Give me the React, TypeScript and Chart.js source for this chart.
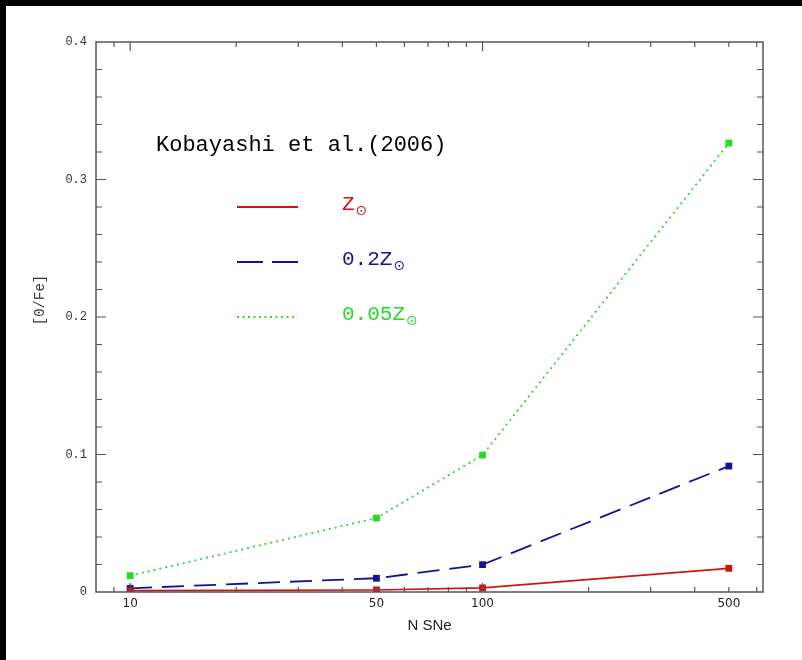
import React, { useEffect, useRef } from "react";
import { Chart, registerables } from "chart.js";

Chart.register(...registerables);

const nSNe = [10, 50, 100, 500];
const solarZ = [0.001, 0.0015, 0.003, 0.0172];
const z02 = [0.0027, 0.01, 0.0199, 0.0916];
const z005 = [0.0119, 0.0538, 0.0996, 0.3265];
const seriesLabels = ["Z", "0.2Z", "0.05Z"];
const xTickLabels = [10, 50, 100, 500];
const xMajorTicks = [10, 100];
const xMinorTicks = [9, 20, 30, 40, 50, 60, 70, 80, 90, 200, 300, 400, 500, 600];
const yMax = 0.4;
const yMinorStep = 0.02;
const legendTitle = "Kobayashi et al.(2006)";

const RED = "#cc1414";
const BLUE = "#12129a";
const GREEN = "#22dd22";

const pts = (ys: number[]) => nSNe.map((x, i) => ({ x, y: ys[i] }));

export default function App() {
  const ref = useRef<HTMLCanvasElement | null>(null);
  useEffect(() => {
    const canvas = ref.current!;
    const styles = [
      { color: RED, dash: [] as number[], width: 1.6 },
      { color: BLUE, dash: [22, 10], width: 1.8 },
      { color: GREEN, dash: [2, 4], width: 1.8 },
    ];
    const bgPlugin = {
      id: "bg",
      beforeDraw(chart: any) {
        const c = chart.ctx;
        c.save();
        c.fillStyle = "#fff";
        c.fillRect(0, 0, chart.width, chart.height);
        c.fillStyle = "#000";
        c.fillRect(0, 0, chart.width, 6);
        c.fillRect(0, 0, 6, chart.height);
        c.restore();
      },
    };
    const framePlugin = {
      id: "frame",
      afterDraw(chart: any) {
        const c = chart.ctx;
        const a = chart.chartArea;
        const xs = chart.scales.x;
        const ys = chart.scales.y;
        c.save();
        c.strokeStyle = "#555";
        c.lineWidth = 1.5;
        c.strokeRect(a.left, a.top, a.right - a.left, a.bottom - a.top);
        c.lineWidth = 1.2;
        const drawX = (v: number, len: number) => {
          const px = xs.getPixelForValue(v);
          c.beginPath();
          c.moveTo(px, a.bottom);
          c.lineTo(px, a.bottom - len);
          c.moveTo(px, a.top);
          c.lineTo(px, a.top + len);
          c.stroke();
        };
        xMajorTicks.forEach((v) => drawX(v, 9));
        xMinorTicks.forEach((v) => drawX(v, 5));
        const n = Math.round(yMax / yMinorStep);
        for (let i = 1; i < n; i++) {
          const py = ys.getPixelForValue(i * yMinorStep);
          const len = i % 5 === 0 ? 10 : 6;
          c.beginPath();
          c.moveTo(a.left, py);
          c.lineTo(a.left + len, py);
          c.moveTo(a.right, py);
          c.lineTo(a.right - len, py);
          c.stroke();
        }
        // axis titles
        c.fillStyle = "#222";
        c.font = '15px "Liberation Sans"';
        c.textAlign = "center";
        c.textBaseline = "middle";
        c.fillText("N SNe", (a.left + a.right) / 2, 626);
        c.save();
        c.translate(40, 300);
        c.rotate(-Math.PI / 2);
        c.font = '14px "Liberation Mono"';
        c.fillStyle = "#333";
        c.fillText("[0/Fe]", 0, 0);
        c.restore();
        // legend
        c.textAlign = "left";
        c.fillStyle = "#000";
        c.font = '22px "Liberation Mono"';
        c.fillText(legendTitle, 156, 145);
        const ly = [207, 262, 317];
        seriesLabels.forEach((lab, i) => {
          const s = styles[i];
          c.strokeStyle = s.color;
          c.lineWidth = 2;
          c.setLineDash(i === 1 ? [26, 9] : i === 2 ? [2, 3.5] : []);
          c.beginPath();
          c.moveTo(237, ly[i]);
          c.lineTo(298, ly[i]);
          c.stroke();
          c.setLineDash([]);
          c.fillStyle = s.color;
          c.font = '21px "Liberation Mono"';
          const ty = ly[i] - 3;
          c.fillText(lab, 342, ty);
          const w = c.measureText(lab).width;
          c.font = '14px "DejaVu Sans"';
          c.fillText("\u2299", 342 + w + 1, ty + 7);
        });
        c.restore();
      },
    };
    const chart = new Chart(canvas, {
      type: "line",
      data: {
        datasets: [solarZ, z02, z005].map((ys, i) => ({
          label: seriesLabels[i],
          data: pts(ys),
          borderColor: styles[i].color,
          backgroundColor: styles[i].color,
          borderWidth: styles[i].width,
          borderDash: styles[i].dash,
          pointStyle: "rect",
          pointRadius: 4.8,
          pointBorderWidth: 0,
          tension: 0,
        })),
      },
      options: {
        responsive: false,
        animation: false,
        devicePixelRatio: 1,
        layout: { padding: { left: 46, top: 42, right: 39, bottom: 0 } },
        plugins: { legend: { display: false }, tooltip: { enabled: false } },
        scales: {
          x: {
            type: "logarithmic",
            min: 8,
            max: 625,
            grid: { display: false, drawTicks: false },
            border: { display: false },
            afterFit: (s: any) => {
              s.height = 68;
            },
            ticks: {
              autoSkip: false,
              maxRotation: 0,
              padding: 5,
              color: "#222",
              font: { family: "DejaVu Sans", size: 12 },
              callback: (v: any) => (xTickLabels.includes(Number(v)) ? String(v) : ""),
            },
          },
          y: {
            min: 0,
            max: yMax,
            grid: { display: false, drawTicks: false },
            border: { display: false },
            afterFit: (s: any) => {
              s.width = 50;
            },
            ticks: {
              stepSize: 0.1,
              padding: 9,
              color: "#333",
              font: { family: "Liberation Mono", size: 12 },
              callback: (v: any) => (Number(v) === 0 ? "0" : Number(v).toFixed(1)),
            },
          },
        },
      },
      plugins: [bgPlugin, framePlugin],
    });
    return () => chart.destroy();
  }, []);
  return (
    <canvas
      ref={ref}
      width={802}
      height={660}
      style={{ position: "fixed", left: 0, top: 0, width: 802, height: 660 }}
    />
  );
}
